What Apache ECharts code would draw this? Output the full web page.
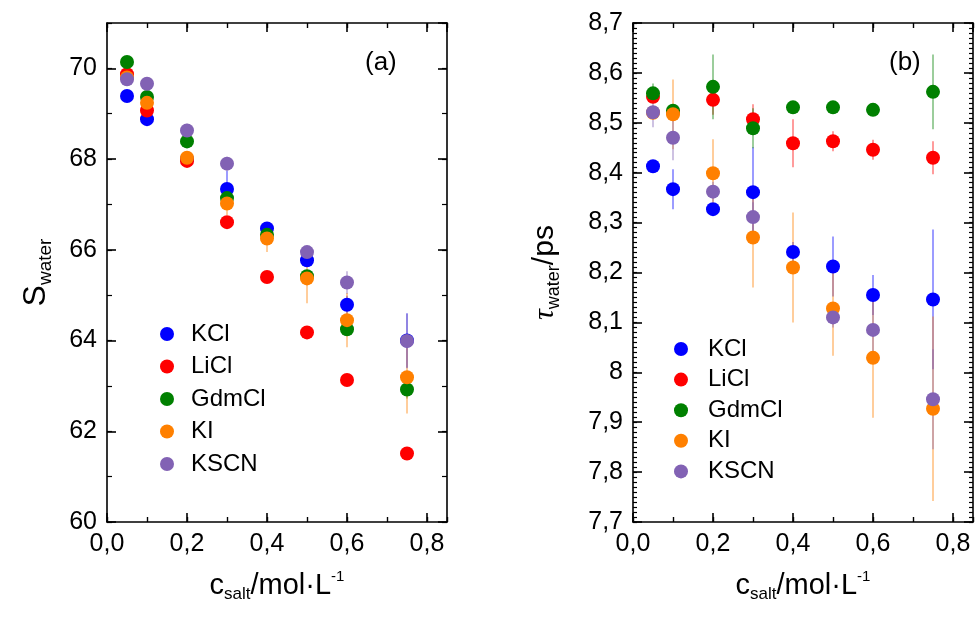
<!DOCTYPE html>
<html>
<head>
<meta charset="utf-8">
<script src="https://cdn.jsdelivr.net/npm/echarts@6/dist/echarts.min.js"></script>
<style>
html,body{margin:0;padding:0;background:#fff;}
#main{width:978px;height:619px;}
</style>
</head>
<body>
<div id="main"></div>
<script>
// concentration of salt (mol/L)
var conc = [0.05, 0.1, 0.2, 0.3, 0.4, 0.5, 0.6, 0.75];
var salts = ['KCl', 'LiCl', 'GdmCl', 'KI', 'KSCN'];
var colors = ['#0000ff', '#ff0000', '#008000', '#ff8000', '#8262b4'];

// (a) S_water
var sKCl   = [69.39, 68.88, 68.00, 67.34, 66.47, 65.77, 64.79, 64.00];
var sLiCl  = [69.87, 69.07, 67.96, 66.61, 65.40, 64.18, 63.13, 61.51];
var sGdmCl = [70.14, 69.37, 68.39, 67.14, 66.33, 65.42, 64.25, 62.92];
var sKI    = [69.80, 69.24, 68.03, 67.02, 66.25, 65.37, 64.45, 63.19];
var sKSCN  = [69.76, 69.66, 68.63, 67.90, null, 65.95, 65.28, 63.99];
var sErrKCl   = [0.05, 0.10, 0.10, 0.40, 0.10, 0.10, 0.20, 0.60];
var sErrLiCl  = [0.05, 0.05, 0.05, 0.05, 0.05, 0.05, 0.05, 0.05];
var sErrGdmCl = [0.05, 0.10, 0.10, 0.10, 0.10, 0.10, 0.10, 0.20];
var sErrKI    = [0.05, 0.15, 0.15, 0.25, 0.30, 0.55, 0.60, 0.80];
var sErrKSCN  = [0.10, 0.15, 0.15, 0.15, null, 0.10, 0.25, 0.60];

// (b) tau_water (ps)
var tKCl   = [8.413, 8.367, 8.327, 8.361, 8.241, 8.212, 8.155, 8.146];
var tLiCl  = [8.552, 8.520, 8.546, 8.507, 8.459, 8.463, 8.446, 8.430];
var tGdmCl = [8.559, 8.524, 8.572, 8.489, 8.531, 8.531, 8.526, 8.562];
var tKI    = [8.520, 8.517, 8.399, 8.270, 8.210, 8.128, 8.029, 7.927];
var tKSCN  = [8.521, 8.470, 8.362, 8.311, null, 8.110, 8.085, 7.946];
var tErrKCl   = [0.005, 0.04, 0.01, 0.09, 0.02, 0.06, 0.04, 0.14];
var tErrLiCl  = [0.01, 0.01, 0.03, 0.03, 0.048, 0.02, 0.02, 0.033];
var tErrGdmCl = [0.02, 0.01, 0.065, 0.04, 0.01, 0.01, 0.01, 0.075];
var tErrKI    = [0.01, 0.07, 0.068, 0.10, 0.11, 0.095, 0.12, 0.185];
var tErrKSCN  = [0.03, 0.045, 0.02, 0.03, null, 0.02, 0.06, 0.10];

var panelA = {vals: [sKCl, sLiCl, sGdmCl, sKI, sKSCN], errs: [sErrKCl, sErrLiCl, sErrGdmCl, sErrKI, sErrKSCN]};
var panelB = {vals: [tKCl, tLiCl, tGdmCl, tKI, tKSCN], errs: [tErrKCl, tErrLiCl, tErrGdmCl, tErrKI, tErrKSCN]};

var FONT = 'Liberation Sans, Arial, sans-serif';

function comma(v){
    return String(Math.round(v * 10) / 10).replace('.', ',');
}

var xTitle = {
    name: '{m|c}{sub|salt}{m|/mol·L}{sup|-1}',
    rich: {
        m: {fontSize: 29, lineHeight: 34, fontFamily: FONT, color: '#000'},
        sub: {fontSize: 17, lineHeight: 17, verticalAlign: 'bottom', fontFamily: FONT, color: '#000'},
        sup: {fontSize: 15, lineHeight: 15, verticalAlign: 'top', fontFamily: FONT, color: '#000'}
    }
};

// 4 x axes and 4 y axes per grid: major (labels), mirrored major, minor, mirrored minor
function makeX(g){
    var base = {gridIndex: g, type: 'value', min: 0, max: 0.85, splitLine: {show: false}};
    var line = {show: true, onZero: false, lineStyle: {color: '#000', width: 1.6}};
    return [
        Object.assign({}, base, {position: 'bottom', interval: 0.2, axisLine: line,
            axisTick: {inside: true, length: 9, lineStyle: {color: '#000', width: 1.6}},
            axisLabel: {fontSize: 25, color: '#000', fontFamily: FONT, margin: 10, showMaxLabel: false,
                formatter: function(v){ return v.toFixed(1).replace('.', ','); }},
            name: xTitle.name, nameLocation: 'middle', nameGap: 47,
            nameTextStyle: {rich: xTitle.rich}}),
        Object.assign({}, base, {position: 'top', interval: 0.2, axisLine: line,
            axisTick: {inside: true, length: 9, lineStyle: {color: '#000', width: 1.6}},
            axisLabel: {show: false}}),
        Object.assign({}, base, {position: 'bottom', interval: 0.1, axisLine: {show: false, onZero: false},
            axisTick: {inside: true, length: 5, lineStyle: {color: '#000', width: 1.4}},
            axisLabel: {show: false}}),
        Object.assign({}, base, {position: 'top', interval: 0.1, axisLine: {show: false, onZero: false},
            axisTick: {inside: true, length: 5, lineStyle: {color: '#000', width: 1.4}},
            axisLabel: {show: false}})
    ];
}

function makeY(g, min, max, major, minor, minorLen, fmt, showMax, title, gap){
    var base = {gridIndex: g, type: 'value', min: min, max: max, splitLine: {show: false}};
    var line = {show: true, onZero: false, lineStyle: {color: '#000', width: 1.6}};
    return [
        Object.assign({}, base, {position: 'left', interval: major, axisLine: line,
            axisTick: {inside: true, length: 9, lineStyle: {color: '#000', width: 1.6}},
            axisLabel: {fontSize: 25, color: '#000', fontFamily: FONT, margin: 10, formatter: fmt, showMaxLabel: showMax},
            name: title.name, nameLocation: 'middle', nameGap: gap, nameRotate: 90,
            nameTextStyle: {rich: title.rich}}),
        Object.assign({}, base, {position: 'right', interval: major, axisLine: line,
            axisTick: {inside: true, length: 9, lineStyle: {color: '#000', width: 1.6}},
            axisLabel: {show: false}}),
        Object.assign({}, base, {position: 'left', interval: minor, axisLine: {show: false, onZero: false},
            axisTick: {inside: true, length: minorLen, lineStyle: {color: '#000', width: 1.2}},
            axisLabel: {show: false}}),
        Object.assign({}, base, {position: 'right', interval: minor, axisLine: {show: false, onZero: false},
            axisTick: {inside: true, length: minorLen, lineStyle: {color: '#000', width: 1.2}},
            axisLabel: {show: false}})
    ];
}

var sTitle = {
    name: '{m|S}{sub|water}',
    rich: {
        m: {fontSize: 32, lineHeight: 38, fontFamily: FONT, color: '#000'},
        sub: {fontSize: 19, lineHeight: 19, verticalAlign: 'bottom', fontFamily: FONT, color: '#000'}
    }
};
var tTitle = {
    name: '{t|τ}{sub|water}{m|/ps}',
    rich: {
        t: {fontSize: 30, lineHeight: 36, fontStyle: 'italic', fontFamily: 'Liberation Serif, serif', color: '#000'},
        m: {fontSize: 30, lineHeight: 36, fontFamily: FONT, color: '#000'},
        sub: {fontSize: 18, lineHeight: 18, verticalAlign: 'bottom', fontFamily: FONT, color: '#000'}
    }
};

var series = [];
function addPanel(p, g){
    salts.forEach(function(name, i){
        var pts = [], bars = [];
        conc.forEach(function(x, j){
            if (p.vals[i][j] == null) return;
            pts.push([x, p.vals[i][j]]);
            bars.push([x, p.vals[i][j], p.errs[i][j]]);
        });
        series.push({
            type: 'custom', name: name, xAxisIndex: g * 4, yAxisIndex: g * 4, z: 2,
            silent: true, clip: true,
            encode: {x: 0, y: 1},
            renderItem: function(params, api){
                var x = api.value(0), y = api.value(1), e = api.value(2);
                var a = api.coord([x, y - e]), b = api.coord([x, y + e]);
                return {type: 'line', shape: {x1: a[0], y1: a[1], x2: b[0], y2: b[1]},
                    style: {stroke: colors[i], lineWidth: 1.3, opacity: 0.6}};
            },
            data: bars
        });
        series.push({
            type: 'scatter', name: name, xAxisIndex: g * 4, yAxisIndex: g * 4, z: 3 + i,
            symbol: 'circle', symbolSize: 14,
            itemStyle: {color: colors[i], opacity: 1},
            data: pts
        });
    });
}
addPanel(panelA, 0);
addPanel(panelB, 1);

var legendBase = {
    orient: 'vertical', icon: 'circle', itemWidth: 38, itemHeight: 14,
    selectedMode: false,
    textStyle: {fontSize: 24, lineHeight: 24, color: '#000', fontFamily: FONT},
    data: salts.map(function(s, i){ return {name: s, itemStyle: {color: colors[i]}}; })
};

var option = {
    animation: false,
    backgroundColor: '#fff',
    grid: [
        {left: 107, top: 23, width: 340, height: 499},
        {left: 633, top: 23, width: 340, height: 499}
    ],
    xAxis: makeX(0).concat(makeX(1)),
    yAxis: makeY(0, 60, 71, 2, 1, 5, function(v){ return String(v); }, false, sTitle, 52)
        .concat(makeY(1, 7.7, 8.7, 0.1, 0.01, 4, comma, true, tTitle, 70)),
    legend: [
        Object.assign({}, legendBase, {left: 155, top: 317, itemGap: 8.5}),
        Object.assign({}, legendBase, {left: 669, top: 332, itemGap: 6.6, itemWidth: 44})
    ],
    graphic: [
        {type: 'text', left: 365, top: 50, style: {text: '(a)', fontSize: 26, fontFamily: FONT, fill: '#000'}},
        {type: 'text', left: 889, top: 50, style: {text: '(b)', fontSize: 26, fontFamily: FONT, fill: '#000'}}
    ],
    series: series
};

var chart = echarts.init(document.getElementById('main'));
chart.setOption(option);
</script>
</body>
</html>
